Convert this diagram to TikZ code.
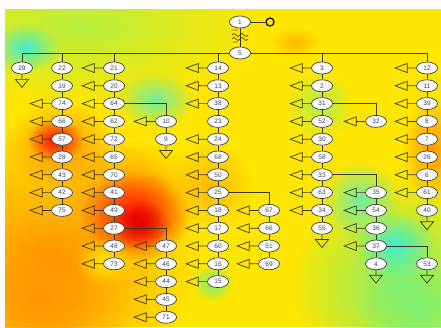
\documentclass[tikz,border=0pt]{standalone}
\usepackage{fontspec}
\setmainfont{Liberation Sans}
\usetikzlibrary{shapes.geometric,fadings}
\definecolor{bgyel}{HTML}{FFE600}
\definecolor{ygreen}{HTML}{B8F040}
\definecolor{hgreen}{HTML}{80F070}
\definecolor{hcyan}{HTML}{40EED0}
\definecolor{gcyan}{HTML}{70EEA0}
\definecolor{horange}{HTML}{FF9600}
\definecolor{lorange}{HTML}{FFB800}
\definecolor{hred}{HTML}{FF1000}
\definecolor{dred}{HTML}{E00000}
\definecolor{lgreen}{HTML}{B0F050}
\definecolor{linec}{HTML}{3A3A24}
\definecolor{nodeb}{HTML}{404040}
\definecolor{textc}{HTML}{3C4060}
\pgfdeclarelayer{heatlayer}
\pgfdeclarelayer{wirelayer}
\pgfsetlayers{heatlayer,wirelayer,main}
\tikzfading[name=blob, inner color=transparent!0, outer color=transparent!100]
\newcommand\heat[4]{\fill[#1, path fading=blob] (#2) ellipse (#3pt and #4pt);}
\newcommand\nd[4]{\node[nd] (n#1) at (#3,{68+17.8*#4}) {#2};}
\newcommand\ltri[1]{\draw[wire] (n#1.west) -- ++(-9,0) ++(0,4.5) -- ++(-12,-4.5) -- ++(12,-4.5) -- cycle;}
\newcommand\dtri[1]{\draw[wire] (n#1.south) -- ++(0,5) ++(-6.5,0) -- ++(13,0) -- ++(-6.5,8) -- cycle;}
\begin{document}
\begin{tikzpicture}[x=1pt,y=-1pt,
  nd/.style={ellipse,draw=nodeb,fill=white,line width=0.7pt,minimum width=21pt,minimum height=12pt,inner sep=0pt,
    font=\fontsize{6.5}{7}\selectfont,text=textc},
  wire/.style={draw=linec,line width=0.7pt}]
\useasboundingbox (0,0) rectangle (441,327);
% nodes
\node[nd] (n1) at (240,22) {1};
\node[nd] (n5) at (240,53) {5};
\node[circle,draw=black,line width=1.2pt,minimum size=8pt,inner sep=0pt] (nsrc) at (270,22) {};
\nd{29}{29}{22}{0}
\nd{22}{22}{62}{0}\nd{19}{19}{62}{1}\nd{74}{74}{62}{2}\nd{66a}{66}{62}{3}\nd{57}{57}{62}{4}
\nd{28}{28}{62}{5}\nd{43}{43}{62}{6}\nd{42}{42}{62}{7}\nd{75}{75}{62}{8}
\nd{21}{21}{114}{0}\nd{20}{20}{114}{1}\nd{64}{64}{114}{2}\nd{62}{62}{114}{3}\nd{72}{72}{114}{4}
\nd{65}{65}{114}{5}\nd{70}{70}{114}{6}\nd{41}{41}{114}{7}\nd{49}{49}{114}{8}\nd{27}{27}{114}{9}
\nd{48}{48}{114}{10}\nd{73}{73}{114}{11}
\nd{10}{10}{166}{3}\nd{9}{9}{166}{4}
\nd{47}{47}{166}{10}\nd{46}{46}{166}{11}\nd{44}{44}{166}{12}\nd{45}{45}{166}{13}\nd{71}{71}{166}{14}
\nd{14}{14}{218}{0}\nd{13}{13}{218}{1}\nd{38}{38}{218}{2}\nd{23}{23}{218}{3}\nd{24}{24}{218}{4}
\nd{68}{68}{218}{5}\nd{50}{50}{218}{6}\nd{25}{25}{218}{7}\nd{18}{18}{218}{8}\nd{17}{17}{218}{9}
\nd{60}{60}{218}{10}\nd{16}{16}{218}{11}\nd{15}{15}{218}{12}
\nd{67}{67}{269}{8}\nd{66b}{66}{269}{9}\nd{51}{51}{269}{10}\nd{69}{69}{269}{11}
\nd{3}{3}{322}{0}\nd{2}{2}{322}{1}\nd{31}{31}{322}{2}\nd{52}{52}{322}{3}\nd{30}{30}{322}{4}
\nd{58}{58}{322}{5}\nd{33}{33}{322}{6}\nd{63}{63}{322}{7}\nd{34}{34}{322}{8}\nd{55}{55}{322}{9}
\nd{32}{32}{376}{3}
\nd{35}{35}{376}{7}\nd{54}{54}{376}{8}\nd{36}{36}{376}{9}\nd{37}{37}{376}{10}\nd{4}{4}{376}{11}
\nd{12}{12}{427}{0}\nd{11}{11}{427}{1}\nd{39}{39}{427}{2}\nd{8}{8}{427}{3}\nd{7}{7}{427}{4}
\nd{26}{26}{427}{5}\nd{6}{6}{427}{6}\nd{61}{61}{427}{7}\nd{40}{40}{427}{8}
\nd{53}{53}{427}{11}
\node[font=\fontsize{2.5}{3}\selectfont,text=textc,inner sep=0pt] (t1) at (235,31) {0.88};
\node[font=\fontsize{2.5}{3}\selectfont,text=textc,inner sep=0pt] (t2) at (235,43) {1.00};
% heat map background
\begin{pgfonlayer}{heatlayer}
\fill[white] (0,0) rectangle (441,327);
\begin{scope}
\clip (5,9) rectangle (441,327);
\fill[bgyel] (5,9) rectangle (441,327);
\heat{ygreen}{80,25}{180}{80}
\heat{hcyan}{25,48}{35}{25}
\heat{gcyan}{155,100}{40}{28}
\heat{horange}{50,260}{150}{140}
\heat{horange}{40,300}{90}{80}
\heat{horange}{60,145}{55}{45}
\heat{hred}{55,140}{28}{22}
\heat{horange}{130,200}{70}{60}
\heat{hred}{135,215}{55}{45}
\heat{dred}{140,225}{30}{25}
\heat{bgyel}{105,262}{30}{25}
\heat{lorange}{210,185}{45}{45}
\heat{hgreen}{212,283}{22}{20}
\heat{lgreen}{320,105}{35}{35}
\heat{horange}{432,150}{30}{55}
\heat{hgreen}{400,285}{110}{110}
\heat{hgreen}{420,310}{60}{50}
\heat{hcyan}{395,245}{40}{35}
\heat{gcyan}{360,200}{40}{40}
\heat{lorange}{295,42}{25}{15}
\end{scope}
\end{pgfonlayer}
% connectors
\begin{pgfonlayer}{wirelayer}
\draw[wire] (n1) -- (nsrc);
\draw[wire] (n1) -- (n5);
\draw[linec,line width=0.6pt] (232,35) sin (234,33.5) cos (236,35) sin (238,36.5) cos (240,35) sin (242,33.5) cos (244,35) sin (246,36.5) cos (248,35);
\draw[linec,line width=0.6pt] (232,39) sin (234,37.5) cos (236,39) sin (238,40.5) cos (240,39) sin (242,37.5) cos (244,39) sin (246,40.5) cos (248,39);
\foreach \t in {29,22,21,14,3,12} {\draw[wire] (n5) -| (n\t);}
\foreach \a/\b in {22/19,19/74,74/66a,66a/57,57/28,28/43,43/42,42/75,
  21/20,20/64,64/62,62/72,72/65,65/70,70/41,41/49,49/27,27/48,48/73,
  10/9,47/46,46/44,44/45,45/71,
  14/13,13/38,38/23,23/24,24/68,68/50,50/25,25/18,18/17,17/60,60/16,16/15,
  67/66b,66b/51,51/69,
  3/2,2/31,31/52,52/30,30/58,58/33,33/63,63/34,34/55,
  35/54,54/36,36/37,37/4,
  12/11,11/39,39/8,8/7,7/26,26/6,6/61,61/40}
  {\draw[wire] (n\a) -- (n\b);}
\foreach \a/\b in {64/10,27/47,25/67,31/32,33/35,37/53} {\draw[wire] (n\a) -| (n\b);}
\foreach \t in {74,66a,57,28,43,42,75,21,20,64,62,72,65,70,41,49,27,48,73,10,47,46,44,45,71,
  14,13,38,24,68,50,25,18,17,60,16,15,67,66b,51,69,3,2,31,52,30,58,33,63,34,32,35,54,36,37,
  12,11,39,8,7,26,6,61} {\ltri{\t}}
\foreach \t in {29,9,55,4,40,53} {\dtri{\t}}
\end{pgfonlayer}
\end{tikzpicture}
\end{document}
